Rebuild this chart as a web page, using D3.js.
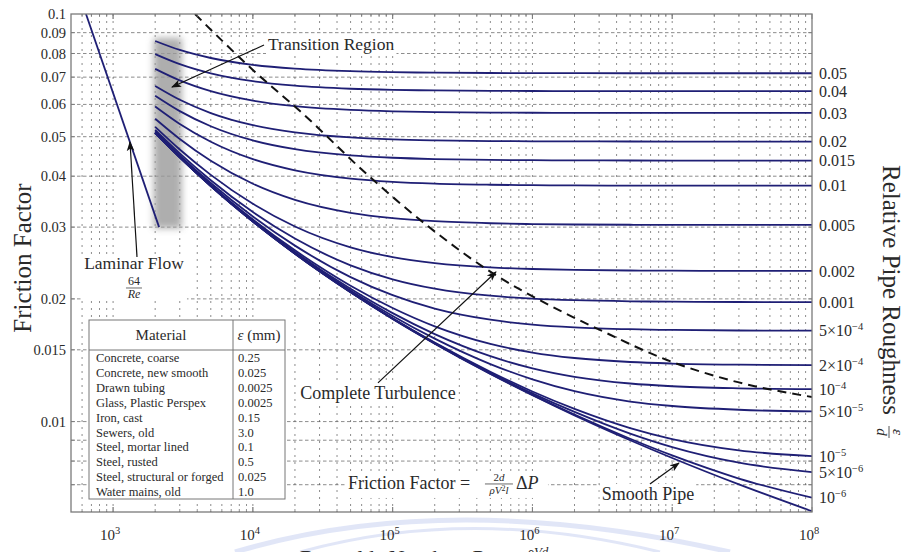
<!DOCTYPE html>
<html>
<head>
<meta charset="utf-8">
<script src="https://cdn.jsdelivr.net/npm/d3@7"></script>
<style>
  body { margin: 0; background: #fff; }
  svg text { font-family: "Liberation Serif", "Times New Roman", serif; fill: #2a2a2a; }
</style>
</head>
<body>
<svg id="chart" width="908" height="552"></svg>
<script>
// Moody diagram - friction factor vs Reynolds number

// Data

const reynolds = [2000, 3000, 5000, 1e4, 2e4, 5e4, 1e5, 2e5, 5e5, 1e6, 2e6, 5e6, 1e7, 3e7, 1e8];

const f_0_05   = [.08584, .08161, .07799, .07504, .07344, .07238, .07200, .07179, .07166, .07161, .07158, .07156, .07156, .07155, .07155];
const f_0_04   = [.07972, .07532, .07152, .06840, .06669, .06556, .06515, .06493, .06478, .06473, .06470, .06469, .06468, .06467, .06467];
const f_0_03   = [.07334, .06870, .06464, .06127, .05940, .05816, .05770, .05746, .05730, .05724, .05721, .05719, .05718, .05718, .05717];
const f_0_02   = [.06659, .06159, .05714, .05336, .05123, .04979, .04926, .04898, .04878, .04872, .04868, .04866, .04865, .04864, .04864];
const f_0_015  = [.06302, .05778, .05304, .04895, .04659, .04499, .04439, .04407, .04386, .04378, .04374, .04371, .04370, .04369, .04369];
const f_0_01   = [.05929, .05372, .04860, .04404, .04135, .03946, .03875, .03836, .03811, .03801, .03796, .03793, .03792, .03791, .03791];
const f_0_005  = [.05533, .04935, .04364, .03833, .03499, .03253, .03156, .03102, .03066, .03052, .03045, .03040, .03039, .03038, .03037];
const f_0_002  = [.05283, .04650, .04030, .03422, .03011, .02677, .02533, .02449, .02390, .02368, .02356, .02348, .02345, .02343, .02343];
const f_0_001  = [.05197, .04551, .03910, .03267, .02812, .02418, .02234, .02119, .02036, .02003, .01985, .01973, .01969, .01965, .01964];
const f_5e_4   = [.05153, .04500, .03848, .03184, .02702, .02262, .02042, .01893, .01778, .01730, .01703, .01685, .01678, .01673, .01671];
const f_2e_4   = [.05127, .04470, .03810, .03132, .02631, .02155, .01900, .01713, .01551, .01477, .01432, .01400, .01388, .01379, .01375];
const f_1e_4   = [.05118, .04459, .03797, .03115, .02606, .02117, .01845, .01639, .01447, .01351, .01288, .01240, .01221, .01207, .01201];
const f_5e_5   = [.05114, .04454, .03791, .03106, .02594, .02097, .01816, .01598, .01384, .01269, .01187, .01120, .01092, .01069, .01059];
const f_1e_5   = [.05110, .04450, .03786, .03099, .02584, .02080, .01792, .01562, .01325, .01185, .01074, .009638, .009059, .008500, .008224];
const f_5e_6   = [.05110, .04450, .03785, .03098, .02583, .02078, .01789, .01558, .01317, .01173, .01056, .009344, .008657, .007927, .007519];
const f_1e_6   = [.05109, .04449, .03785, .03097, .02582, .02077, .01787, .01554, .01311, .01163, .01040, .009074, .008258, .007249, .006506];
const f_smooth = [.05109, .04449, .03785, .03097, .02581, .02076, .01786, .01553, .01309, .01161, .01036, .009001, .008142, .007013, .006026];

const roughnessLabels = ["0.05", "0.04", "0.03", "0.02", "0.015", "0.01", "0.005", "0.002", "0.001",
  "5×10^−4", "2×10^−4", "10^−4", "5×10^−5", "10^−5", "5×10^−6", "10^−6", ""];

const laminarRe = [640, 2133];
const laminarF = [0.1, 0.03];

const turbulenceRe = [3855, 10360, 21730, 68870, 194200, 522000, 1.40e6, 3.04e6, 9.17e6, 2.72e7, 1e8];
const turbulenceF = [0.1, 0.0721, 0.0578, 0.0398, 0.0295, 0.0231, 0.0191, 0.01678, 0.01416, 0.01258, 0.01149];

const transitionRe = [1950, 3100];
const transitionF = [0.0873, 0.0298];

const yTickValues = [0.1, 0.09, 0.08, 0.07, 0.06, 0.05, 0.04, 0.03, 0.02, 0.015, 0.01];
const xTickValues = [1e3, 1e4, 1e5, 1e6, 1e7, 1e8];
const xTickExponents = ["3", "4", "5", "6", "7", "8"];

const materials = ["Concrete, coarse", "Concrete, new smooth", "Drawn tubing", "Glass, Plastic Perspex",
  "Iron, cast", "Sewers, old", "Steel, mortar lined", "Steel, rusted", "Steel, structural or forged", "Water mains, old"];
const materialEps = ["0.25", "0.025", "0.0025", "0.0025", "0.15", "3.0", "0.1", "0.5", "0.025", "1.0"];

const frictionSeries = [f_0_05, f_0_04, f_0_03, f_0_02, f_0_015, f_0_01, f_0_005, f_0_002, f_0_001,
  f_5e_4, f_2e_4, f_1e_4, f_5e_5, f_1e_5, f_5e_6, f_1e_6, f_smooth];

const curves = frictionSeries.map((vals, i) => ({
  label: roughnessLabels[i],
  values: reynolds.map((re, j) => ({ re: re, f: vals[j] }))
}));


// Setup

const plot = { left: 71, right: 812, top: 14, bottom: 512 };
const lineColor = "#1f1f75";

const svg = d3.select("#chart");
const defs = svg.append("defs");

const x = d3.scaleLog().domain([500, 1e8]).range([plot.left, plot.right]);
const y = d3.scaleLog().domain([0.006, 0.1]).range([plot.bottom, plot.top]);

defs.append("clipPath").attr("id", "clip")
  .append("rect")
  .attr("x", plot.left).attr("y", plot.top)
  .attr("width", plot.right - plot.left).attr("height", plot.bottom - plot.top);

defs.append("filter").attr("id", "blur")
  .attr("x", "-50%").attr("y", "-20%").attr("width", "200%").attr("height", "140%")
  .append("feGaussianBlur").attr("stdDeviation", 3.5);

defs.append("marker")
  .attr("id", "arrow")
  .attr("viewBox", "0 0 10 10")
  .attr("refX", 9).attr("refY", 5)
  .attr("markerWidth", 10).attr("markerHeight", 10)
  .attr("markerUnits", "userSpaceOnUse")
  .attr("orient", "auto")
  .append("path")
  .attr("d", "M0,1.2 L10,5 L0,8.8 L2.5,5 z")
  .attr("fill", "#111");

svg.append("rect").attr("width", 908).attr("height", 552).attr("fill", "#fff");

// faint watermark swoosh at the bottom
const wm = svg.append("g").attr("fill", "none").attr("stroke", "#c9d2f2").attr("opacity", 0.55);
wm.append("path").attr("d", "M235,552 Q450,488 730,552").attr("stroke-width", 5);
wm.append("path").attr("d", "M300,552 Q470,505 660,552").attr("stroke-width", 3);


// Grid

const grid = svg.append("g").attr("clip-path", "url(#clip)");

const xGrid = x.ticks().filter(v => v > 500 && v < 1e8);
const yGrid = y.ticks().concat([0.015]).filter(v => v > 0.006 && v < 0.1);

grid.selectAll(".vgrid")
  .data(xGrid)
  .enter()
  .append("line")
  .attr("x1", d => x(d)).attr("x2", d => x(d))
  .attr("y1", plot.top).attr("y2", plot.bottom)
  .attr("stroke", "#555")
  .attr("stroke-width", 0.9)
  .attr("stroke-dasharray", "2,5")
  .attr("opacity", 0.75);

grid.selectAll(".hgrid")
  .data(yGrid)
  .enter()
  .append("line")
  .attr("x1", plot.left).attr("x2", plot.right)
  .attr("y1", d => y(d)).attr("y2", d => y(d))
  .attr("stroke", "#555")
  .attr("stroke-width", 0.9)
  .attr("stroke-dasharray", "3.5,2.5")
  .attr("opacity", 0.75);


// Transition region band

grid.append("rect")
  .attr("x", x(transitionRe[0]))
  .attr("y", y(transitionF[0]))
  .attr("width", x(transitionRe[1]) - x(transitionRe[0]))
  .attr("height", y(transitionF[1]) - y(transitionF[0]))
  .attr("fill", "#9a9a9a")
  .attr("opacity", 0.8)
  .attr("filter", "url(#blur)");


// Curves

const lineGen = d3.line()
  .curve(d3.curveMonotoneX)
  .x(d => x(d.re))
  .y(d => y(d.f));

const marks = svg.append("g").attr("clip-path", "url(#clip)");

marks.selectAll(".curve")
  .data(curves)
  .enter()
  .append("path")
  .attr("class", "curve")
  .attr("fill", "none")
  .attr("stroke", lineColor)
  .attr("stroke-width", 1.8)
  .attr("d", d => lineGen(d.values));

marks.append("path")
  .attr("fill", "none")
  .attr("stroke", lineColor)
  .attr("stroke-width", 1.8)
  .attr("d", lineGen(laminarRe.map((re, i) => ({ re: re, f: laminarF[i] }))));

marks.append("path")
  .attr("fill", "none")
  .attr("stroke", "#111")
  .attr("stroke-width", 2)
  .attr("stroke-dasharray", "9,6")
  .attr("d", lineGen(turbulenceRe.map((re, i) => ({ re: re, f: turbulenceF[i] }))));


// Frame and ticks

const ticks = svg.append("g").attr("stroke", "#777").attr("stroke-width", 0.8);

xGrid.concat(xTickValues).forEach(v => {
  const len = xTickValues.includes(v) ? 5 : 3;
  ticks.append("line").attr("x1", x(v)).attr("x2", x(v)).attr("y1", plot.bottom).attr("y2", plot.bottom - len);
  ticks.append("line").attr("x1", x(v)).attr("x2", x(v)).attr("y1", plot.top).attr("y2", plot.top + len);
});
yGrid.forEach(v => {
  ticks.append("line").attr("x1", plot.left).attr("x2", plot.left + 4).attr("y1", y(v)).attr("y2", y(v));
  ticks.append("line").attr("x1", plot.right).attr("x2", plot.right - 4).attr("y1", y(v)).attr("y2", y(v));
});

svg.append("rect")
  .attr("x", plot.left).attr("y", plot.top)
  .attr("width", plot.right - plot.left).attr("height", plot.bottom - plot.top)
  .attr("fill", "none")
  .attr("stroke", "#7a7a7a")
  .attr("stroke-width", 1.3);


// Axis labels

svg.selectAll(".ylab")
  .data(yTickValues)
  .enter()
  .append("text")
  .attr("x", plot.left - 5)
  .attr("y", d => y(d))
  .attr("dy", "0.35em")
  .attr("text-anchor", "end")
  .attr("font-size", 14.5)
  .text(d => String(d));

const xl = svg.selectAll(".xlab")
  .data(xTickValues)
  .enter()
  .append("text")
  .attr("x", d => x(d) - 3)
  .attr("y", 540)
  .attr("text-anchor", "middle")
  .attr("font-size", 15);
xl.append("tspan").text("10");
xl.append("tspan").attr("dy", -6).attr("font-size", 10.5).text((d, i) => xTickExponents[i]);

// Right-hand roughness labels
curves.filter(c => c.label).forEach(c => {
  const last = c.values[c.values.length - 1];
  const t = svg.append("text")
    .attr("x", plot.right + 7)
    .attr("y", y(last.f))
    .attr("dy", "0.36em")
    .attr("font-size", 16);
  const parts = c.label.split("^");
  t.append("tspan").text(parts[0]);
  if (parts[1]) t.append("tspan").attr("dy", -6).attr("font-size", 10.5).text(parts[1]);
});

// Axis titles
svg.append("text")
  .attr("transform", "translate(31,258) rotate(-90)")
  .attr("text-anchor", "middle")
  .attr("font-size", 25)
  .text("Friction Factor");

const rt = svg.append("g").attr("transform", "translate(883,290) rotate(90)");
rt.append("text")
  .attr("text-anchor", "middle")
  .attr("font-size", 25)
  .text("Relative Pipe Roughness");
rt.append("text").attr("x", 142).attr("y", -10).attr("text-anchor", "middle")
  .attr("font-size", 15).attr("font-style", "italic").text("ε");
rt.append("line").attr("x1", 136).attr("x2", 148).attr("y1", -6).attr("y2", -6)
  .attr("stroke", "#2a2a2a").attr("stroke-width", 0.8);
rt.append("text").attr("x", 142).attr("y", 6).attr("text-anchor", "middle")
  .attr("font-size", 15).attr("font-style", "italic").text("d");

const xt = svg.append("text")
  .attr("x", 512).attr("y", 565)
  .attr("text-anchor", "end")
  .attr("font-size", 22);
xt.append("tspan").text("Reynolds Number, ");
xt.append("tspan").attr("font-style", "italic").text("Re");
xt.append("tspan").text(" =");
svg.append("text").attr("x", 538).attr("y", 556).attr("text-anchor", "middle")
  .attr("font-size", 13).attr("font-style", "italic").text("ρVd");


// Annotations

function labelBox(textSel, padX, padY) {
  const b = textSel.node().getBBox();
  svg.insert("rect", () => textSel.node())
    .attr("x", b.x - padX).attr("y", b.y - padY)
    .attr("width", b.width + 2 * padX).attr("height", b.height + 2 * padY)
    .attr("fill", "#fff");
}

function arrow(from, to) {
  svg.append("line")
    .attr("x1", x(from[0])).attr("y1", y(from[1]))
    .attr("x2", x(to[0])).attr("y2", y(to[1]))
    .attr("stroke", "#111")
    .attr("stroke-width", 1.2)
    .attr("marker-end", "url(#arrow)");
}

// Transition Region
const trText = svg.append("text")
  .attr("x", x(12830)).attr("y", y(0.0816))
  .attr("font-size", 17.5)
  .text("Transition Region");
labelBox(trText, 2, 0);
arrow([12010, 0.0839], [2639, 0.0662]);

// Laminar Flow
const lamText = svg.append("text")
  .attr("x", x(1411)).attr("y", y(0.02368))
  .attr("text-anchor", "middle")
  .attr("font-size", 17.5)
  .text("Laminar Flow");
svg.insert("rect", () => lamText.node())
  .attr("x", x(1411) - 53).attr("y", y(0.02368) - 15)
  .attr("width", 106).attr("height", 46)
  .attr("fill", "#fff");
svg.append("text").attr("x", x(1411)).attr("y", y(0.02368) + 16)
  .attr("text-anchor", "middle").attr("font-size", 12).text("64");
svg.append("line")
  .attr("x1", x(1411) - 8).attr("x2", x(1411) + 8)
  .attr("y1", y(0.02368) + 19).attr("y2", y(0.02368) + 19)
  .attr("stroke", "#2a2a2a").attr("stroke-width", 0.7);
svg.append("text").attr("x", x(1411)).attr("y", y(0.02368) + 29)
  .attr("text-anchor", "middle").attr("font-size", 12).attr("font-style", "italic").text("Re");
arrow([1483, 0.02533], [1321, 0.04853]);

// Complete Turbulence
const ctText = svg.append("text")
  .attr("x", x(78520)).attr("y", y(0.01136))
  .attr("text-anchor", "middle")
  .attr("font-size", 18)
  .text("Complete Turbulence");
labelBox(ctText, 2, 0);
arrow([78520, 0.01244], [548200, 0.02328]);

// Friction factor definition
const ffx = x(47900), ffy = y(0.006834);
svg.append("rect").attr("x", ffx - 3).attr("y", ffy - 17).attr("width", 203).attr("height", 26).attr("fill", "#fff");
svg.append("text").attr("x", ffx).attr("y", ffy).attr("font-size", 18).text("Friction Factor =");
svg.append("text").attr("x", ffx + 151).attr("y", ffy - 8).attr("text-anchor", "middle")
  .attr("font-size", 11).html('2<tspan font-style="italic">d</tspan>');
svg.append("line").attr("x1", ffx + 137).attr("x2", ffx + 165)
  .attr("y1", ffy - 5).attr("y2", ffy - 5).attr("stroke", "#2a2a2a").attr("stroke-width", 0.7);
svg.append("text").attr("x", ffx + 151).attr("y", ffy + 5).attr("text-anchor", "middle")
  .attr("font-size", 11).attr("font-style", "italic")
  .html('ρV<tspan dy="-3" font-size="8" font-style="normal">2</tspan><tspan dy="3">l</tspan>');
svg.append("text").attr("x", ffx + 168).attr("y", ffy).attr("font-size", 18)
  .html('Δ<tspan font-style="italic">P</tspan>');

// Smooth Pipe
const spText = svg.append("text")
  .attr("x", x(6.705e6)).attr("y", y(0.006424))
  .attr("text-anchor", "middle")
  .attr("font-size", 18)
  .text("Smooth Pipe");
labelBox(spText, 2, 0);
arrow([6.929e6, 0.007029], [1.117e7, 0.007913]);


// Material table

const table = svg.append("g").attr("transform", "translate(89,320)");
table.append("rect")
  .attr("width", 196).attr("height", 179)
  .attr("fill", "#fff")
  .attr("stroke", "#777")
  .attr("stroke-width", 1);
table.append("line").attr("x1", 144).attr("x2", 144).attr("y1", 0).attr("y2", 179)
  .attr("stroke", "#777").attr("stroke-width", 1);
table.append("line").attr("x1", 0).attr("x2", 196).attr("y1", 30).attr("y2", 30)
  .attr("stroke", "#777").attr("stroke-width", 1);
table.append("text").attr("x", 72).attr("y", 20).attr("text-anchor", "middle")
  .attr("font-size", 15).text("Material");
table.append("text").attr("x", 170).attr("y", 20).attr("text-anchor", "middle")
  .attr("font-size", 15).html('<tspan font-style="italic">ε</tspan> (mm)');

table.selectAll(".mat")
  .data(materials)
  .enter()
  .append("text")
  .attr("x", 7)
  .attr("y", (d, i) => 42 + i * 14.9)
  .attr("font-size", 12.5)
  .attr("fill", "#444")
  .text(d => d);

table.selectAll(".eps")
  .data(materialEps)
  .enter()
  .append("text")
  .attr("x", 149)
  .attr("y", (d, i) => 42 + i * 14.9)
  .attr("font-size", 12.5)
  .attr("fill", "#444")
  .text(d => d);
</script>
</body>
</html>
